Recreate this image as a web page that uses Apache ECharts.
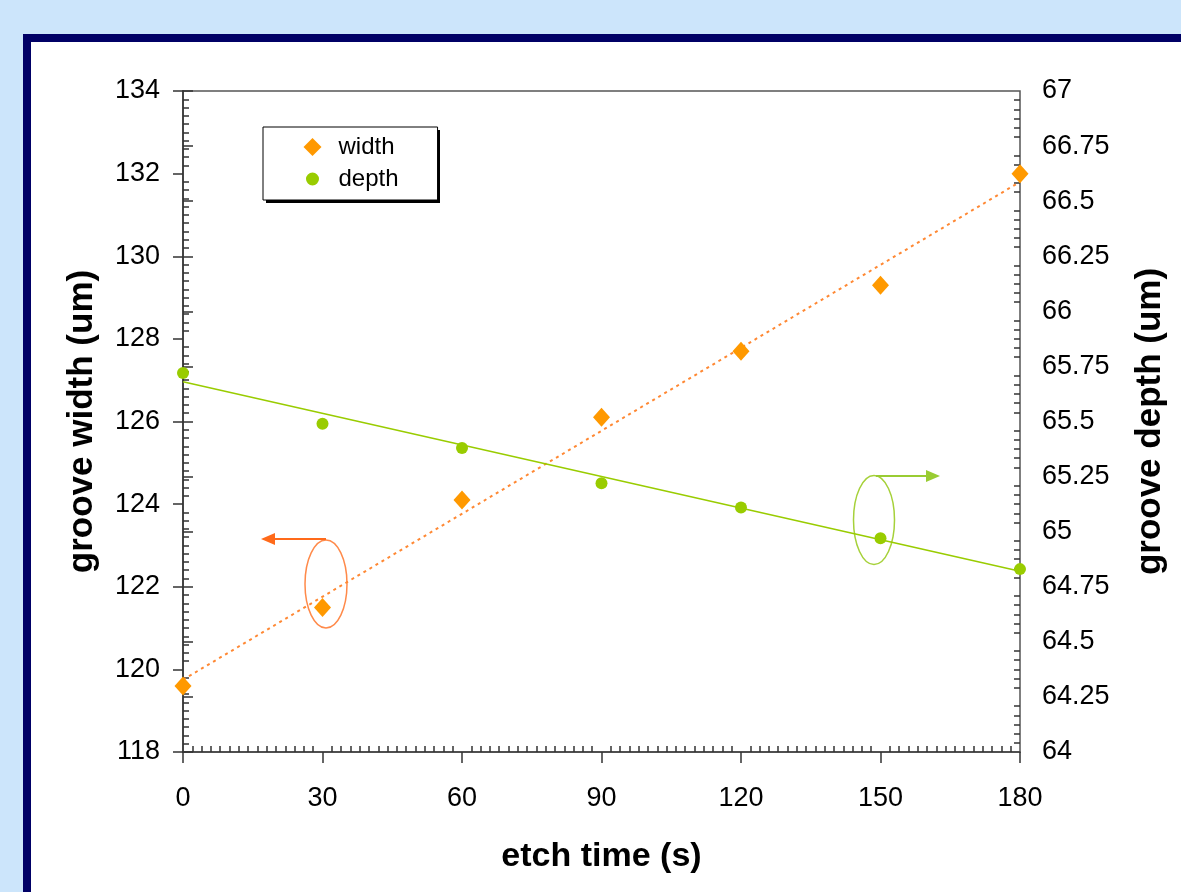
<!DOCTYPE html>
<html>
<head>
<meta charset="utf-8">
<title>groove width / depth vs etch time</title>
<script src="https://cdn.jsdelivr.net/npm/echarts@6/dist/echarts.min.js"></script>
<style>
  html, body {
    margin: 0;
    padding: 0;
    width: 1181px;
    height: 892px;
    overflow: hidden;
    background: #cce5fb;
  }
  .frame {
    position: absolute;
    left: 23px;
    top: 34px;
    width: 1200px;
    height: 900px;
    border: 8px solid #000066;
    background: #fff;
  }
  #chart {
    position: absolute;
    left: 0;
    top: 0;
    width: 1181px;
    height: 892px;
  }
</style>
</head>
<body>
<div class="frame"></div>
<div id="chart"></div>
<script>
// measured points
const etchTime = [0, 30, 60, 90, 120, 150, 180]
const grooveWidth = [119.6, 121.5, 124.1, 126.1, 127.7, 129.3, 132.0]
const grooveDepth = [65.72, 65.49, 65.38, 65.22, 65.11, 64.97, 64.83]

// trendline end points
const trendTime = [0, 180]
const widthTrend = [119.75, 131.8]
const depthTrend = [65.68, 64.82]

const FONT = "'Liberation Sans', Arial, sans-serif"
const ORANGE = '#ff9900'
const GREEN = '#99cc00'

const pairs = (xs, ys) => xs.map((x, i) => [x, ys[i]])

const chart = echarts.init(document.getElementById('chart'))

const labelStyle = {
  color: '#000',
  fontFamily: FONT,
  fontSize: 27
}
const nameStyle = (size) => ({
  color: '#000',
  fontFamily: FONT,
  fontSize: size,
  fontWeight: 'bold'
})

// main axis: labels + major ticks pointing out
const mainAxis = (extra) => Object.assign({
  type: 'value',
  axisLine: { show: true, lineStyle: { color: '#404040', width: 1.5 } },
  axisTick: { show: true, inside: false, length: 10, lineStyle: { color: '#333', width: 1.5 } },
  minorTick: { show: false },
  splitLine: { show: false },
  axisLabel: Object.assign({}, labelStyle)
}, extra)

// overlay axis: only the minor ticks, pointing into the plot
const minorAxis = (extra) => Object.assign({
  type: 'value',
  axisLine: { show: false },
  axisTick: { show: false, inside: true },
  axisLabel: { show: false },
  splitLine: { show: false },
  minorSplitLine: { show: false }
}, extra)

const option = {
  backgroundColor: 'transparent',
  animation: false,
  grid: {
    left: 183,
    right: 161,
    top: 91,
    bottom: 140,
    show: true,
    borderColor: '#555',
    borderWidth: 1.5,
    backgroundColor: 'transparent'
  },
  legend: {
    orient: 'vertical',
    left: 263,
    top: 127,
    padding: [8, 39, 9, 38],
    itemWidth: 18,
    itemHeight: 18,
    itemGap: 8,
    backgroundColor: '#fff',
    borderColor: '#000',
    borderWidth: 1,
    borderRadius: 0,
    textStyle: {
      color: '#000', fontFamily: FONT, fontSize: 24, lineHeight: 24,
      padding: [0, 0, 0, 12]
    },
    data: [
      { name: 'width', icon: 'diamond', itemStyle: { color: ORANGE, opacity: 1 } },
      { name: 'depth', icon: 'circle', itemStyle: { color: GREEN, opacity: 1, borderColor: '#fff', borderWidth: 5 } }
    ]
  },
  xAxis: [
    mainAxis({
      min: 0, max: 180, interval: 30,
      name: 'etch time (s)',
      nameLocation: 'middle',
      nameGap: 88,
      nameTextStyle: nameStyle(34),
      axisLabel: Object.assign({ margin: 33 }, labelStyle),
      axisTick: { show: true, inside: false, length: 11, lineStyle: { color: '#333', width: 1.5 } }
    }),
    minorAxis({
      min: 0, max: 180, interval: 30,
      position: 'bottom',
      minorTick: { show: true, splitNumber: 15, length: 6, lineStyle: { color: '#333', width: 1.5 } }
    })
  ],
  yAxis: [
    mainAxis({
      min: 118, max: 134, interval: 2,
      position: 'left',
      name: 'groove width (um)',
      nameLocation: 'middle',
      nameRotate: 90,
      nameGap: 83,
      nameTextStyle: nameStyle(35),
      axisLabel: Object.assign({ margin: 23 }, labelStyle)
    }),
    mainAxis({
      min: 64, max: 67, interval: 0.25,
      position: 'right',
      name: 'groove depth (um)',
      nameLocation: 'middle',
      nameRotate: 90,
      nameGap: 113,
      nameTextStyle: nameStyle(35),
      axisLabel: Object.assign({ margin: 22 }, labelStyle)
    }),
    minorAxis({
      min: 118, max: 134, interval: 2,
      position: 'left',
      minorTick: { show: true, splitNumber: 10, length: 6, lineStyle: { color: '#333', width: 1.5 } }
    }),
    minorAxis({
      min: 64, max: 67, interval: 0.25,
      position: 'right',
      minorTick: { show: true, splitNumber: 6, length: 6, lineStyle: { color: '#333', width: 1.5 } }
    })
  ],
  series: [
    {
      name: 'width trend',
      type: 'line',
      yAxisIndex: 0,
      data: pairs(trendTime, widthTrend),
      showSymbol: false,
      silent: true,
      lineStyle: { color: '#ff8833', width: 2, type: [3, 4] },
      z: 1
    },
    {
      name: 'depth trend',
      type: 'line',
      yAxisIndex: 1,
      data: pairs(trendTime, depthTrend),
      showSymbol: false,
      silent: true,
      lineStyle: { color: GREEN, width: 1.5 },
      z: 1
    },
    {
      name: 'width',
      type: 'scatter',
      yAxisIndex: 0,
      data: pairs(etchTime, grooveWidth),
      symbol: 'diamond',
      symbolSize: [17, 19],
      clip: false,
      itemStyle: { color: ORANGE, opacity: 1 },
      z: 3
    },
    {
      name: 'depth',
      type: 'scatter',
      yAxisIndex: 1,
      data: pairs(etchTime, grooveDepth),
      symbol: 'circle',
      symbolSize: 12,
      clip: false,
      itemStyle: { color: GREEN, opacity: 1 },
      z: 3
    }
  ],
  graphic: [
    // legend drop shadow
    {
      type: 'rect',
      z: -1,
      shape: { x: 266, y: 130, width: 174, height: 73 },
      style: { fill: '#000' }
    },
    // the ellipse + arrow call-outs telling which axis each series uses
    {
      type: 'ellipse',
      shape: { cx: 326, cy: 584, rx: 21, ry: 44 },
      style: { fill: 'none', stroke: '#ff8a4a', lineWidth: 1.5 }
    },
    {
      type: 'polyline',
      shape: { points: [[326, 539], [272, 539]] },
      style: { stroke: '#ff6a1a', lineWidth: 2 }
    },
    {
      type: 'polygon',
      shape: { points: [[261, 539], [275, 533], [275, 545]] },
      style: { fill: '#ff6a1a' }
    },
    {
      type: 'ellipse',
      shape: { cx: 874, cy: 520, rx: 20.5, ry: 44.5 },
      style: { fill: 'none', stroke: '#a6d13a', lineWidth: 1.5 }
    },
    {
      type: 'polyline',
      shape: { points: [[876, 476], [929, 476]] },
      style: { stroke: '#99cc33', lineWidth: 2 }
    },
    {
      type: 'polygon',
      shape: { points: [[940, 476], [926, 470], [926, 482]] },
      style: { fill: '#99cc33' }
    }
  ]
}

chart.setOption(option)
</script>
</body>
</html>
